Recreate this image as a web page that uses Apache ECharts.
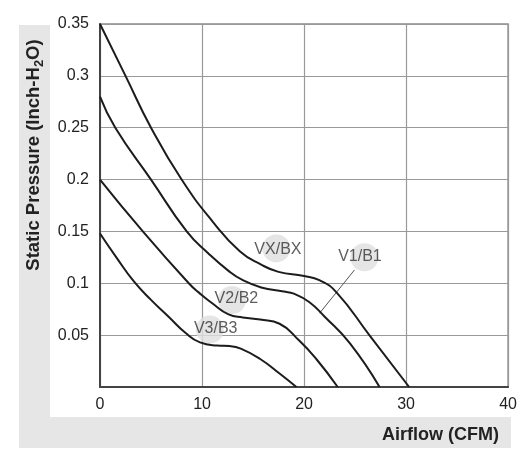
<!DOCTYPE html>
<html>
<head>
<meta charset="utf-8">
<script src="https://cdn.jsdelivr.net/npm/echarts@6/dist/echarts.min.js"></script>
<style>
  html, body { margin: 0; padding: 0; background: #fff; }
  #chart { width: 520px; height: 456px; }
</style>
</head>
<body>
<div id="chart"></div>
<script>
// fan curves: [airflow CFM, static pressure inch-H2O]
const curveVX = [[0,0.35],[2.5,0.30],[5.0,0.25],[8.0,0.20],[11,0.16],[13.7,0.131],[15.8,0.118],[17.5,0.111],[20,0.107],[21.5,0.103],[23.2,0.091],[26.4,0.05],[30.3,0]];
const curveV1 = [[0,0.28],[1.5,0.25],[5.0,0.20],[8.5,0.15],[10.6,0.129],[12.6,0.112],[14,0.103],[15.8,0.096],[18,0.092],[19,0.09],[20.5,0.082],[22,0.068],[24.5,0.042],[27.4,0]];
const curveV2 = [[0,0.20],[4.2,0.15],[8.7,0.10],[9.7,0.091],[11.1,0.080],[12.6,0.070],[14,0.067],[15.7,0.065],[17.6,0.061],[19.5,0.045],[21.2,0.027],[23.3,0]];
const curveV3 = [[0,0.148],[1.6,0.125],[3.3,0.102],[5,0.084],[6.7,0.068],[8.4,0.052],[9.8,0.043],[11.5,0.040],[12.7,0.0395],[13.8,0.037],[15.7,0.027],[17.6,0.013],[19.25,0]];

const curveNames = ['VX/BX', 'V1/B1', 'V2/B2', 'V3/B3'];
const labelPos = [[17.44,0.1321],[25.48,0.1257],[13.37,0.0855],[11.34,0.0559]];
const bubblePos = [[17.28,0.1336],[25.92,0.1251],[12.94,0.0839],[10.76,0.0554]];
const leaderV1 = [[24.94,0.1128],[21.52,0.0711]];

const xTicks = [0, 10, 20, 30, 40];
const yTicks = [0.05, 0.1, 0.15, 0.2, 0.25, 0.3, 0.35];

const FONT = '"Liberation Sans", Arial, sans-serif';
const chart = echarts.init(document.getElementById('chart'), null, { renderer: 'canvas' });

const curveSeries = [curveVX, curveV1, curveV2, curveV3].map((d, i) => ({
  name: curveNames[i],
  type: 'line',
  data: d,
  smooth: 0.5,
  symbol: 'none',
  z: 5,
  lineStyle: { color: '#1c1c1c', width: 2 }
}));

const option = {
  animation: false,
  backgroundColor: '#fff',
  grid: { left: 100, top: 24, right: 11, bottom: 69, show: true, borderColor: '#8c8c8c', borderWidth: 1.5 },
  graphic: [
    { type: 'rect', z: -10, shape: { x: 19, y: 25, width: 31, height: 423 }, style: { fill: '#e6e6e6' } },
    { type: 'rect', z: -10, shape: { x: 19, y: 417, width: 492, height: 31 }, style: { fill: '#e6e6e6' } },
    {
      type: 'text', x: 34, y: 155, rotation: Math.PI / 2,
      style: {
        text: '{a|Static Pressure (Inch-H}{s|2}{a|O)}',
        textAlign: 'center', textVerticalAlign: 'middle',
        rich: {
          a: { fontFamily: FONT, fontWeight: 'bold', fontSize: 18.5, lineHeight: 24, fill: '#222', verticalAlign: 'middle' },
          s: { fontFamily: FONT, fontWeight: 'bold', fontSize: 13, lineHeight: 13, fill: '#222', verticalAlign: 'bottom' }
        }
      }
    },
    {
      type: 'text', x: 499, y: 435,
      style: { text: 'Airflow (CFM)', font: 'bold 18px ' + FONT, fill: '#222', textAlign: 'right', textVerticalAlign: 'middle' }
    }
  ],
  xAxis: {
    type: 'value', min: xTicks[0], max: xTicks[xTicks.length - 1], interval: 10,
    axisLine: { show: true, onZero: false, lineStyle: { color: '#444', width: 2 } },
    axisTick: { show: false },
    axisLabel: { margin: 10, color: '#222', fontSize: 16, fontFamily: FONT },
    splitLine: { show: true, lineStyle: { color: '#999', width: 1.2 } }
  },
  yAxis: {
    type: 'value', min: 0, max: yTicks[yTicks.length - 1], interval: 0.05,
    axisLine: { show: true, lineStyle: { color: '#444', width: 2 } },
    axisTick: { show: false },
    axisLabel: {
      margin: 11, color: '#222', fontSize: 16, fontFamily: FONT,
      formatter: v => (v === 0 ? '' : String(+v.toFixed(2)))
    },
    splitLine: { show: true, lineStyle: { color: '#999', width: 1.2 } }
  },
  series: [
    {
      type: 'scatter', data: bubblePos, symbolSize: 28, z: 2, silent: true,
      itemStyle: { color: '#dedede' }
    },
    {
      type: 'line', data: leaderV1, symbol: 'none', z: 4, silent: true,
      lineStyle: { color: '#555', width: 1 }
    },
    ...curveSeries,
    {
      type: 'scatter', data: labelPos.map((p, i) => ({ value: p, name: curveNames[i] })),
      symbolSize: 0, z: 6, silent: true,
      label: {
        show: true, position: 'inside', formatter: p => p.name,
        color: '#333', fontSize: 16, fontFamily: FONT
      }
    }
  ]
};
chart.setOption(option);
</script>
</body>
</html>
